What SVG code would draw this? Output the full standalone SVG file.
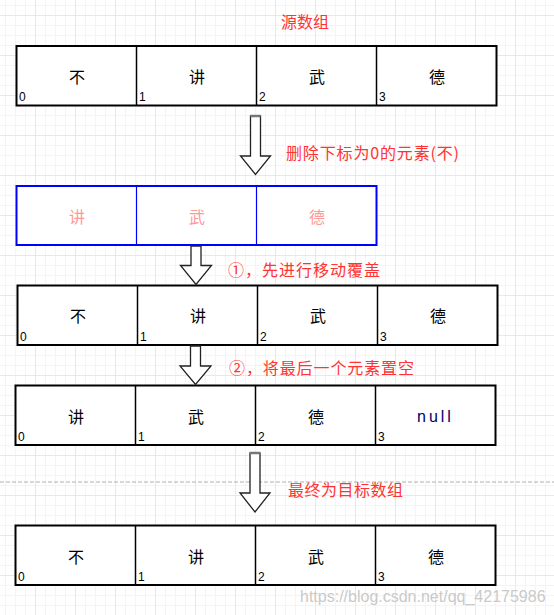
<svg xmlns="http://www.w3.org/2000/svg" width="554" height="615" viewBox="0 0 554 615">
<defs>
<pattern id="grid" patternUnits="userSpaceOnUse" x="35" y="15" width="40" height="40">
<path d="M10.5 0V40M20.5 0V40M30.5 0V40M0 10.5H40M0 20.5H40M0 30.5H40" stroke="#f4f4f4" stroke-width="1" fill="none"/>
<path d="M0.5 0V40M0 0.5H40" stroke="#e8e8e8" stroke-width="1" fill="none"/>
</pattern>
<style>
.cell{fill:#fff;stroke:#000;stroke-width:2}
.div{stroke:#000;stroke-width:1.5}
.bcell{fill:#fff;stroke:#0000ff;stroke-width:2}
.bdiv{stroke:#0000ff;stroke-width:1.2}
.cj{font-family:"Noto Sans CJK SC","Noto Sans",sans-serif;font-size:16px;text-anchor:middle;dominant-baseline:central;fill:#000}
.pk{fill:#ff9999}
.idx{font-family:"Liberation Sans",Arial,sans-serif;font-size:12px;fill:#000}
.lbl{font-family:"Noto Sans CJK SC","Noto Sans",sans-serif;font-size:16px;fill:#ff3333;dominant-baseline:central}
.nul{font-family:"Liberation Sans",Arial,sans-serif;font-size:16px;letter-spacing:3px;fill:#000066;dominant-baseline:central}
.arr{fill:#fff;stroke:#222;stroke-width:1.3;stroke-linejoin:miter}
.cap{stroke:#777;stroke-width:2.5}
</style>
</defs>
<rect width="554" height="615" fill="#fff"/>
<rect width="554" height="615" fill="url(#grid)"/>
<line x1="0" y1="482" x2="554" y2="482" stroke="#b0b0b0" stroke-width="1" stroke-dasharray="4 2"/>

<g id="title"><text class="lbl" x="281" y="21" textLength="48" lengthAdjust="spacing">源数组</text></g>

<g id="row1">
<rect class="cell" x="16.5" y="46" width="480" height="59.5"/>
<line class="div" x1="136.5" y1="46" x2="136.5" y2="105.5"/>
<line class="div" x1="256.5" y1="46" x2="256.5" y2="105.5"/>
<line class="div" x1="376.5" y1="46" x2="376.5" y2="105.5"/>
<text class="cj" x="77" y="75.5">不</text>
<text class="cj" x="197" y="75.5">讲</text>
<text class="cj" x="317" y="75.5">武</text>
<text class="cj" x="437" y="75.5">德</text>
<text class="idx" x="19" y="101">0</text>
<text class="idx" x="139" y="101">1</text>
<text class="idx" x="259" y="101">2</text>
<text class="idx" x="379" y="101">3</text>
</g>

<g id="label1"><text class="lbl" x="286" y="152" textLength="173" lengthAdjust="spacing">删除下标为0的元素(不)</text></g>

<g id="row2">
<rect class="bcell" x="16.5" y="186" width="360" height="59"/>
<line class="bdiv" x1="136.5" y1="186" x2="136.5" y2="245"/>
<line class="bdiv" x1="256.5" y1="186" x2="256.5" y2="245"/>
<text class="cj pk" x="77" y="215.5">讲</text>
<text class="cj pk" x="197" y="215.5">武</text>
<text class="cj pk" x="317" y="215.5">德</text>
</g>

<g id="label2"><text class="lbl" x="228" y="269" textLength="152" lengthAdjust="spacing">①，先进行移动覆盖</text></g>

<g id="row3">
<rect class="cell" x="17.5" y="285.5" width="480" height="59.5"/>
<line class="div" x1="137.5" y1="285.5" x2="137.5" y2="345"/>
<line class="div" x1="257.5" y1="285.5" x2="257.5" y2="345"/>
<line class="div" x1="377.5" y1="285.5" x2="377.5" y2="345"/>
<text class="cj" x="78" y="315">不</text>
<text class="cj" x="198" y="315">讲</text>
<text class="cj" x="318" y="315">武</text>
<text class="cj" x="438" y="315">德</text>
<text class="idx" x="20" y="341">0</text>
<text class="idx" x="140" y="341">1</text>
<text class="idx" x="260" y="341">2</text>
<text class="idx" x="380" y="341">3</text>
</g>

<g id="label3"><text class="lbl" x="229" y="367" textLength="185" lengthAdjust="spacing">②，将最后一个元素置空</text></g>

<g id="row4">
<rect class="cell" x="15.5" y="385.5" width="480" height="59.5"/>
<line class="div" x1="135.5" y1="385.5" x2="135.5" y2="445"/>
<line class="div" x1="255.5" y1="385.5" x2="255.5" y2="445"/>
<line class="div" x1="375.5" y1="385.5" x2="375.5" y2="445"/>
<text class="cj" x="76" y="415.5">讲</text>
<text class="cj" x="196" y="415.5">武</text>
<text class="cj" x="316" y="415.5">德</text>
<text class="nul" x="417" y="416">null</text>
<text class="idx" x="18" y="441">0</text>
<text class="idx" x="138" y="441">1</text>
<text class="idx" x="258" y="441">2</text>
<text class="idx" x="378" y="441">3</text>
</g>

<g id="label4"><text class="lbl" x="288" y="489" textLength="115" lengthAdjust="spacing">最终为目标数组</text></g>

<g id="row5">
<rect class="cell" x="15.5" y="525.5" width="480" height="59.5"/>
<line class="div" x1="135.5" y1="525.5" x2="135.5" y2="585"/>
<line class="div" x1="255.5" y1="525.5" x2="255.5" y2="585"/>
<line class="div" x1="375.5" y1="525.5" x2="375.5" y2="585"/>
<text class="cj" x="76" y="555.5">不</text>
<text class="cj" x="196" y="555.5">讲</text>
<text class="cj" x="316" y="555.5">武</text>
<text class="cj" x="436" y="555.5">德</text>
<text class="idx" x="18" y="581">0</text>
<text class="idx" x="138" y="581">1</text>
<text class="idx" x="258" y="581">2</text>
<text class="idx" x="378" y="581">3</text>
</g>

<g id="connectors">
<polygon class="arr" points="250.5,116 260.5,116 260.5,156 270.5,156 255.5,174.5 240.5,156 250.5,156"/>
<line class="cap" x1="250.5" y1="116" x2="260.5" y2="116"/>
<polygon class="arr" points="191,246 201,246 201,265.5 211.5,265.5 196,284.5 180.5,265.5 191,265.5"/>
<polygon class="arr" points="190.5,346 200.5,346 200.5,366 211,366 195.5,384.5 180,366 190.5,366"/>
<polygon class="arr" points="250,453 260,453 260,493 270,493 255,512 240,493 250,493"/>
<line class="cap" x1="250" y1="453" x2="260" y2="453"/>
</g>

<text x="300" y="602" font-family="Liberation Sans, Arial, sans-serif" font-size="16" fill="#cacaca">https://blog.csdn.net/qq_42175986</text>
</svg>
